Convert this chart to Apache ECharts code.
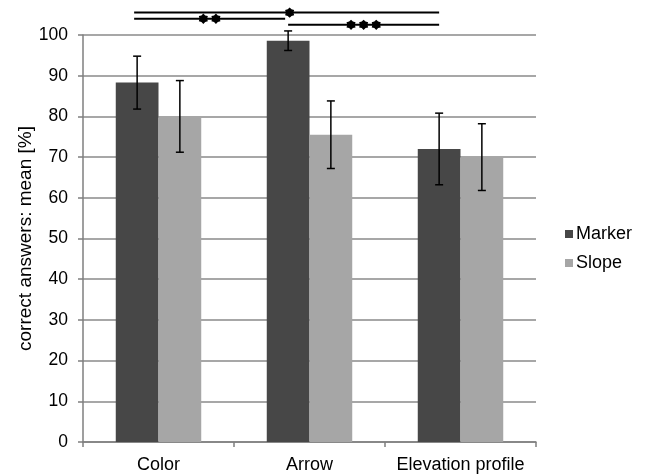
<!DOCTYPE html>
<html>
<head>
<meta charset="utf-8">
<script src="https://cdn.jsdelivr.net/npm/echarts@6/dist/echarts.min.js"></script>
<style>html,body{margin:0;padding:0;background:#fff}#c{width:646px;height:476px}</style>
</head>
<body>
<div id="c"></div>
<script>
var categories = ['Color', 'Arrow', 'Elevation profile'];
var seriesNames = ['Marker', 'Slope'];
var markerMean = [88.3, 98.6, 72.0];
var markerErr = [6.5, 2.4, 8.8];
var slopeMean = [80.0, 75.5, 70.0];
var slopeErr = [8.8, 8.3, 8.2];
var yTicks = [0, 10, 20, 30, 40, 50, 60, 70, 80, 90, 100];
// significance comparisons between Marker bars: [fromCategory, toCategory, stars]
var sigPairs = [[0, 2, '*'], [0, 1, '**'], [1, 2, '***']];
var sigLevels = [105.5, 104.0, 102.5];

var colors = ['#474747', '#a6a6a6'];
var BAR_FRAC = 0.283;
var font = 'Liberation Sans, Arial, sans-serif';

var chart = echarts.init(document.getElementById('c'), null, {renderer: 'canvas'});

function errSeries(means, errs, sIdx) {
  return {
    type: 'custom',
    z: 10,
    data: means.map(function (m, i) { return [i, m - errs[i], m + errs[i]]; }),
    renderItem: function (params, api) {
      var bw = api.size([1, 0])[0];
      var off = (sIdx === 0 ? -1 : 1) * bw * BAR_FRAC / 2;
      var lo = api.coord([api.value(0), api.value(1)]);
      var hi = api.coord([api.value(0), api.value(2)]);
      var x = lo[0] + off;
      var cap = 4;
      var st = {stroke: '#000', lineWidth: 1.5};
      return {
        type: 'group',
        children: [
          {type: 'line', shape: {x1: x, y1: lo[1], x2: x, y2: hi[1]}, style: st},
          {type: 'line', shape: {x1: x - cap, y1: lo[1], x2: x + cap, y2: lo[1]}, style: st},
          {type: 'line', shape: {x1: x - cap, y1: hi[1], x2: x + cap, y2: hi[1]}, style: st}
        ]
      };
    }
  };
}

var option = {
  animation: false,
  backgroundColor: '#fff',
  grid: {left: 83, right: 110, top: 35, bottom: 34, containLabel: false},
  legend: {
    orient: 'vertical',
    left: 560, top: 220,
    itemWidth: 8, itemHeight: 8, itemGap: 11,
    icon: 'rect',
    data: seriesNames,
    textStyle: {fontFamily: font, fontSize: 18, color: '#000', padding: [0, 0, 0, -2]}
  },
  xAxis: {
    type: 'category',
    data: categories,
    axisLine: {lineStyle: {color: '#7f7f7f', width: 1.5}},
    axisTick: {show: true, alignWithLabel: false, length: 5, lineStyle: {color: '#7f7f7f', width: 1.5}},
    axisLabel: {fontFamily: font, fontSize: 18, color: '#000', margin: 14, interval: 0, hideOverlap: false}
  },
  yAxis: {
    type: 'value',
    min: 0, max: 100, interval: 10,
    name: 'correct answers: mean [%]',
    nameLocation: 'middle',
    nameGap: 48,
    nameMoveOverlap: false,
    nameTextStyle: {fontFamily: font, fontSize: 19, color: '#000'},
    axisLine: {show: true, lineStyle: {color: '#7f7f7f', width: 1.5}},
    axisTick: {show: true, length: 5, lineStyle: {color: '#7f7f7f', width: 1.5}},
    axisLabel: {fontFamily: font, fontSize: 17.5, color: '#000', margin: 15,
      formatter: function (v) { return yTicks.indexOf(v) >= 0 ? String(v) : ''; }},
    splitLine: {show: true, lineStyle: {color: '#8a8a8a', width: 1.5}}
  },
  series: [
    {name: seriesNames[0], type: 'bar', data: markerMean, barWidth: (BAR_FRAC * 100) + '%', barGap: '0%',
     itemStyle: {color: colors[0]}},
    {name: seriesNames[1], type: 'bar', data: slopeMean, barWidth: (BAR_FRAC * 100) + '%', barGap: '0%',
     itemStyle: {color: colors[1]}},
    errSeries(markerMean, markerErr, 0),
    errSeries(slopeMean, slopeErr, 1)
  ]
};
chart.setOption(option);

function starPoints(cx, cy, n, ro, ri) {
  var pts = [];
  for (var i = 0; i < n * 2; i++) {
    var a = Math.PI * i / n - Math.PI / 2;
    var r = i % 2 === 0 ? ro : ri;
    pts.push([cx + r * Math.cos(a), cy + r * Math.sin(a)]);
  }
  return pts;
}

// significance brackets
var g = [];
var bw = chart.convertToPixel({xAxisIndex: 0}, 1) - chart.convertToPixel({xAxisIndex: 0}, 0);
sigPairs.forEach(function (p, k) {
  var x1 = chart.convertToPixel({xAxisIndex: 0}, p[0]) - bw * BAR_FRAC / 2;
  var x2 = chart.convertToPixel({xAxisIndex: 0}, p[1]) - bw * BAR_FRAC / 2;
  var y = chart.convertToPixel({yAxisIndex: 0}, sigLevels[k]);
  if (k === 0) { x1 -= 3; }
  if (k === 1) { x1 -= 3; x2 -= 3; }
  g.push({type: 'line', shape: {x1: x1, y1: y, x2: x2, y2: y}, style: {stroke: '#000', lineWidth: 2}, z: 20});
  var n = p[2].length;
  var cx = (x1 + x2) / 2 + (k === 0 ? 3 : 0);
  for (var i = 0; i < n; i++) {
    var sx = cx + (i - (n - 1) / 2) * 12.6;
    g.push({type: 'polygon', z: 21, shape: {points: starPoints(sx, y, 6, 5.2, 3.8)},
      style: {fill: '#000'}});
  }
});
chart.setOption({graphic: g});
</script>
</body>
</html>
